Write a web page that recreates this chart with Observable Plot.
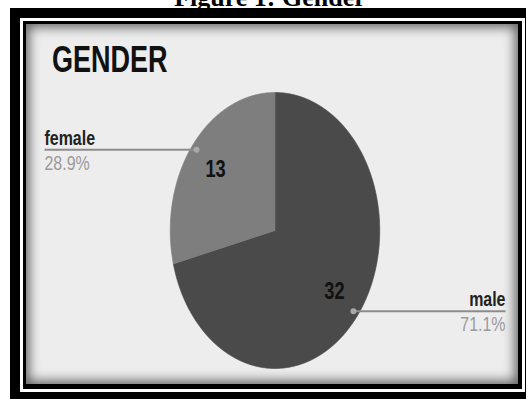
<!DOCTYPE html>
<html><head><meta charset="utf-8">
<script src="https://cdn.jsdelivr.net/npm/d3@7"></script>
<script src="https://cdn.jsdelivr.net/npm/@observablehq/plot@0.6"></script>
<style>
html,body{margin:0;padding:0;background:#fff;}
#wrap{position:relative;width:526px;height:399px;overflow:hidden;background:#fff;}
#cap{position:absolute;left:0;width:540px;top:-15px;text-align:center;font:bold 26px "Liberation Serif","Times New Roman",serif;line-height:26px;color:#000;white-space:nowrap;}
.box{position:absolute;}
#b1{left:10px;top:8px;width:540px;height:420px;background:#000;}
#b2{left:20px;top:18px;width:505px;height:374px;background:#fff;}
#b3{left:23px;top:21px;width:499px;height:368px;background:#000;}
#panel{left:26px;top:24px;width:492px;height:360px;background:#ededed;box-shadow:inset 0 0 12px 3px rgba(0,0,0,0.6);}
#title{position:absolute;left:52px;top:41px;font:bold 37px "Liberation Sans",Arial,sans-serif;line-height:37px;color:#111;transform:scaleX(0.73);transform-origin:0 0;white-space:nowrap;}
#chart{position:absolute;left:0;top:0;}
</style></head>
<body><div id="wrap">
<div id="cap">Figure 1: Gender</div>
<div class="box" id="b1"></div><div class="box" id="b2"></div><div class="box" id="b3"></div><div class="box" id="panel"></div>
<div id="title">GENDER</div>
<div id="chart"></div>
</div>
<script>
const categories = ["male", "female"];
const counts = [32, 13];
const percentLabels = ["71.1%", "28.9%"];
const sliceColors = ["#4a4a4a", "#7e7e7e"];

const K = 0.76; // horizontal squish of the original picture's text
const rows = categories.map((c, i) => ({name: c, count: counts[i], pct: percentLabels[i]}));
const arcs = d3.pie().sort(null).value(d => d.count)(rows);

const slicePts = [];
arcs.forEach(a => {
  const n = Math.max(2, Math.ceil((a.endAngle - a.startAngle) / (Math.PI / 180)));
  slicePts.push({name: a.data.name, x: 0, y: 0});
  for (let k = 0; k <= n; k++) {
    const t = a.startAngle + (a.endAngle - a.startAngle) * k / n;
    slicePts.push({name: a.data.name, x: Math.sin(t), y: Math.cos(t)});
  }
  slicePts.push({name: a.data.name, x: 0, y: 0});
});

const XMAX = 2.2;
const ann = arcs.map(a => {
  const m = (a.startAngle + a.endAngle) / 2;
  const side = Math.sin(m) < 0 ? -1 : 1;
  return {
    name: a.data.name, count: a.data.count, pct: a.data.pct, side,
    dx0: 0.95 * Math.sin(m), dy0: 0.95 * Math.cos(m),
    lx: 0.72 * Math.sin(m), ly: 0.72 * Math.cos(m),
    ex: side * XMAX
  };
});
const left = ann.filter(d => d.side < 0), right = ann.filter(d => d.side > 0);
const FF = "Liberation Sans, Arial, sans-serif";

const chart = Plot.plot({
  width: 526, height: 399,
  marginLeft: 44, marginRight: 21, marginTop: 92, marginBottom: 31,
  x: {domain: [-XMAX, XMAX], axis: null},
  y: {domain: [-1, 1], axis: null},
  color: {domain: categories, range: sliceColors},
  style: {background: "transparent", overflow: "visible", fontFamily: FF},
  marks: [
    Plot.line(slicePts, {x: "x", y: "y", z: "name", fill: "name", stroke: "name", strokeWidth: 0.6}),
    Plot.link(ann, {x1: "dx0", y1: "dy0", x2: "ex", y2: "dy0", stroke: "#8c8c8c", strokeWidth: 2}),
    Plot.dot(ann, {x: "dx0", y: "dy0", r: 3, fill: "#a9a9a9", stroke: "none"}),
    Plot.text(ann, {x: "lx", y: "ly", text: d => String(d.count), fontSize: 24, fontWeight: "bold", fill: "#111", fontFamily: FF}),
    Plot.text(left, {x: "ex", y: "dy0", text: "name", textAnchor: "start", lineAnchor: "bottom", dy: -5, fontSize: 21, fontWeight: "bold", fill: "#222", fontFamily: FF}),
    Plot.text(left, {x: "ex", y: "dy0", text: "pct", textAnchor: "start", lineAnchor: "top", dy: 5, fontSize: 21, fill: "#9a9a9a", fontFamily: FF}),
    Plot.text(right, {x: "ex", y: "dy0", text: "name", textAnchor: "end", lineAnchor: "bottom", dy: -5, fontSize: 21, fontWeight: "bold", fill: "#222", fontFamily: FF}),
    Plot.text(right, {x: "ex", y: "dy0", text: "pct", textAnchor: "end", lineAnchor: "top", dy: 5, fontSize: 21, fill: "#9a9a9a", fontFamily: FF})
  ]
});
chart.querySelectorAll("text").forEach(t => {
  let tr = t.getAttribute("transform");
  if (!tr) {
    const x = t.getAttribute("x") || 0, y = t.getAttribute("y") || 0;
    t.removeAttribute("x"); t.removeAttribute("y");
    tr = `translate(${x},${y})`;
  }
  t.setAttribute("transform", tr + ` scale(${K},1)`);
});
document.getElementById("chart").appendChild(chart);
</script>
</body></html>
